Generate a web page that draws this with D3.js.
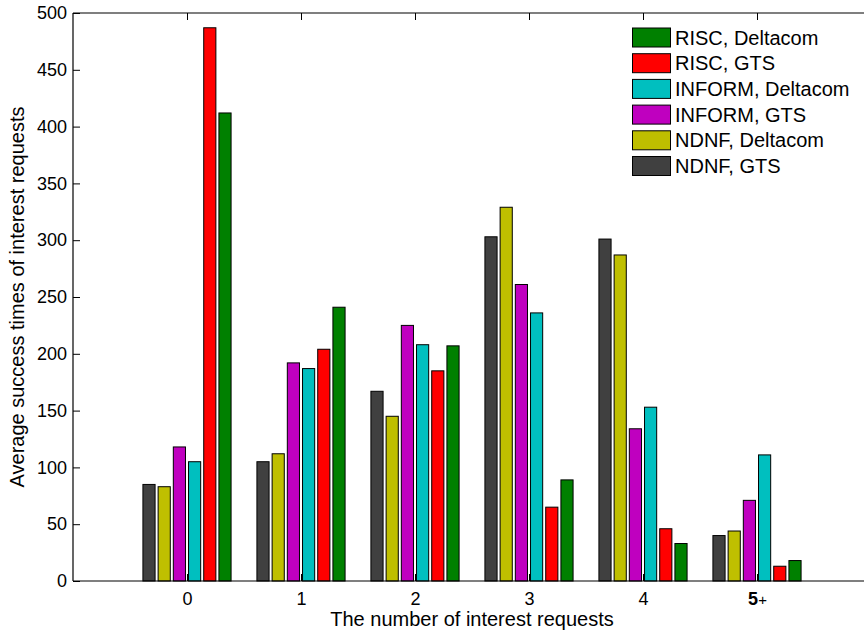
<!DOCTYPE html>
<html>
<head>
<meta charset="utf-8">
<script src="https://cdn.jsdelivr.net/npm/d3@7"></script>
<style>
  html, body { margin: 0; padding: 0; background: #ffffff; }
  svg { display: block; font-family: "Liberation Sans", Arial, Helvetica, sans-serif; }
</style>
</head>
<body>
<svg id="chart" width="864" height="634"></svg>
<script>
// ---------- data ----------
const categories = ["0", "1", "2", "3", "4", "5+"];
const seriesNames = ["NDNF, GTS", "NDNF, Deltacom", "INFORM, GTS", "INFORM, Deltacom", "RISC, GTS", "RISC, Deltacom"];
const seriesColors = ["#404040", "#bfbf00", "#bf00bf", "#00bfbf", "#ff0000", "#008000"];
const ndnfGTS        = [85, 105, 167, 303, 301, 40];
const ndnfDeltacom   = [83, 112, 145, 329, 287, 44];
const informGTS      = [118, 192, 225, 261, 134, 71];
const informDeltacom = [105, 187, 208, 236, 153, 111];
const riscGTS        = [487, 204, 185, 65, 46, 13];
const riscDeltacom   = [412, 241, 207, 89, 33, 18];
const seriesValues = [ndnfGTS, ndnfDeltacom, informGTS, informDeltacom, riscGTS, riscDeltacom];
const yTicks = [0, 50, 100, 150, 200, 250, 300, 350, 400, 450, 500];
const xLabel = "The number of interest requests";
const yLabel = "Average success times of interest requests";

// ---------- layout ----------
const svg = d3.select("#chart");
const pL = 73, pR = 871, pT = 13, pB = 581;
const x = d3.scaleLinear().domain([-1, categories.length]).range([pL, pR]);
const y = d3.scaleLinear().domain([0, 500]).range([pB, pT]);
const nS = seriesNames.length;
const groupW = 0.8;            // group width in category units
const slot = groupW / nS;
const barW = slot * 0.8;

const tickFont = 18;

// left axis (ticks pointing inward)
const yAxis = d3.axisLeft(y).tickValues(yTicks).tickSizeInner(-7).tickSizeOuter(0).tickPadding(6);
const gy = svg.append("g").attr("transform", `translate(${pL},0)`).call(yAxis);
gy.select(".domain").remove();
gy.selectAll("text").attr("font-size", tickFont).attr("fill", "#000").attr("font-family", null);
gy.selectAll("line").attr("stroke", "#000");

// right ticks
const yAxisR = d3.axisRight(y).tickValues(yTicks).tickSizeInner(-7).tickSizeOuter(0).tickFormat("");
const gyr = svg.append("g").attr("transform", `translate(${pR},0)`).call(yAxisR);
gyr.select(".domain").remove();
gyr.selectAll("line").attr("stroke", "#000");

// bottom axis
const xVals = categories.map((d, i) => i);
const xAxis = d3.axisBottom(x).tickValues(xVals).tickSizeInner(-7).tickSizeOuter(0).tickPadding(11)
  .tickFormat((d, i) => categories[i]);
const gx = svg.append("g").attr("transform", `translate(0,${pB})`).call(xAxis);
gx.select(".domain").remove();
gx.selectAll("text").attr("font-size", tickFont).attr("fill", "#000").attr("font-family", null);
gx.selectAll("line").attr("stroke", "#000");
// "5+" style: bold 5, plain +
gx.selectAll(".tick text").filter((d, i) => categories[i] === "5+")
  .text(null)
  .call(t => {
    t.append("tspan").attr("font-weight", "bold").text("5");
    t.append("tspan").attr("font-size", 15).text("+");
  });

// top ticks
const xAxisT = d3.axisTop(x).tickValues(xVals).tickSizeInner(-7).tickSizeOuter(0).tickFormat("");
const gxt = svg.append("g").attr("transform", `translate(0,${pT})`).call(xAxisT);
gxt.select(".domain").remove();
gxt.selectAll("line").attr("stroke", "#000");

// bars
const barData = [];
seriesValues.forEach((vals, s) => {
  vals.forEach((v, c) => barData.push({ s, c, v }));
});
svg.append("g").selectAll("rect").data(barData).join("rect")
  .attr("x", d => x(d.c - groupW / 2 + slot * d.s + (slot - barW) / 2))
  .attr("y", d => y(d.v))
  .attr("width", d => x(barW) - x(0))
  .attr("height", d => y(0) - y(d.v))
  .attr("fill", d => seriesColors[d.s])
  .attr("stroke", "#000")
  .attr("stroke-width", 1);

// axis frame lines
const frame = svg.append("g").attr("stroke", "#000").attr("stroke-width", 1.2).attr("fill", "none");
frame.append("line").attr("x1", pL).attr("x2", pR).attr("y1", pB).attr("y2", pB);
frame.append("line").attr("x1", pL).attr("x2", pR).attr("y1", pT).attr("y2", pT);
frame.append("line").attr("x1", pL).attr("x2", pL).attr("y1", pT).attr("y2", pB);
frame.append("line").attr("x1", pR).attr("x2", pR).attr("y1", pT).attr("y2", pB);

// axis labels
svg.append("text").attr("x", (pL + pR) / 2).attr("y", 626)
  .attr("text-anchor", "middle").attr("font-size", 20).attr("fill", "#000").text(xLabel);
svg.append("text").attr("transform", `translate(24,${(pT + pB) / 2}) rotate(-90)`)
  .attr("text-anchor", "middle").attr("font-size", 20).attr("fill", "#000").text(yLabel);

// legend (reverse order)
const legendOrder = d3.range(nS).reverse();
const lg = svg.append("g").attr("transform", "translate(632,28)");
const rowH = 25.7;
legendOrder.forEach((s, i) => {
  const row = lg.append("g").attr("transform", `translate(0,${i * rowH})`);
  row.append("rect").attr("x", 0.5).attr("y", 0).attr("width", 38).attr("height", 19)
    .attr("fill", seriesColors[s]).attr("stroke", "#000").attr("stroke-width", 1);
  row.append("text").attr("x", 43).attr("y", 16.5).attr("font-size", 20).attr("fill", "#000")
    .text(seriesNames[s]);
});
</script>
</body>
</html>
